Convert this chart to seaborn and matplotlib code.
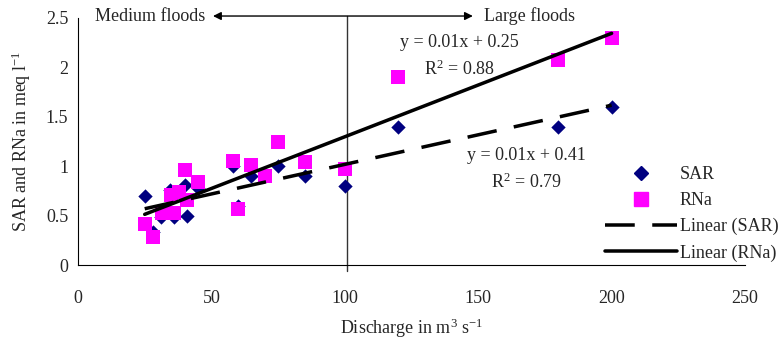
import numpy as np
import pandas as pd
import matplotlib
matplotlib.use("Agg")
import matplotlib.pyplot as plt
import seaborn as sns
from matplotlib.lines import Line2D

# ---- data ----
sar_x = [25, 28, 31, 34.5, 36, 40, 41, 45, 58, 60, 65, 75, 85, 100, 120, 180, 200]
sar_y = [0.70, 0.33, 0.49, 0.76, 0.49, 0.81, 0.50, 0.78, 1.00, 0.60, 0.90, 1.00, 0.90, 0.80, 1.40, 1.40, 1.60]
rna_x = [25, 28, 31.5, 35, 36, 38, 40, 41, 45, 58, 60, 65, 70, 75, 85, 100, 120, 180, 200]
rna_y = [0.42, 0.28, 0.53, 0.71, 0.53, 0.74, 0.96, 0.66, 0.84, 1.05, 0.57, 1.01, 0.90, 1.24, 1.04, 0.97, 1.90, 2.07, 2.30]

x_ticks = [0, 50, 100, 150, 200, 250]
y_ticks = [0, 0.5, 1, 1.5, 2, 2.5]
eq_rna = ["y = 0.01x + 0.25", "R$^2$ = 0.88"]
eq_sar = ["y = 0.01x + 0.41", "R$^2$ = 0.79"]

sns.set_style("white")
plt.rcParams["font.family"] = ["Liberation Serif", "DejaVu Serif"]
plt.rcParams["mathtext.fontset"] = "custom"
plt.rcParams["mathtext.rm"] = "Liberation Serif"
plt.rcParams["mathtext.it"] = "Liberation Serif:italic"
FS = 13

fig = plt.figure(figsize=(7.81, 3.47), dpi=100)
ax = fig.add_axes([78/781, 1-265/347, (745-78)/781, (265-18)/347])

sar_df = pd.DataFrame({"x": sar_x, "y": sar_y})
rna_df = pd.DataFrame({"x": rna_x, "y": rna_y})

NAVY = "#000080"
MAG = "#FF00FF"
LW = 3.5 * 72 / 100
DASH = (8.5, 5)

sns.regplot(data=sar_df, x="x", y="y", ax=ax, scatter=False, ci=None, truncate=True,
            line_kws=dict(color="black", lw=LW, dashes=DASH, zorder=3))
sns.regplot(data=rna_df, x="x", y="y", ax=ax, scatter=False, ci=None, truncate=True,
            line_kws=dict(color="black", lw=LW, zorder=3))
sns.scatterplot(data=sar_df, x="x", y="y", ax=ax, marker="D", s=7.3**2, color=NAVY,
                edgecolor=NAVY, linewidth=0, zorder=2)
sns.scatterplot(data=rna_df, x="x", y="y", ax=ax, marker="s", s=10**2, color=MAG,
                edgecolor=MAG, linewidth=0, zorder=2)

ax.set_xlim(0, 250)
ax.set_ylim(0, 2.5)
ax.set_xticks(x_ticks)
ax.set_yticks(y_ticks)
ax.set_xticklabels([str(v) for v in x_ticks], fontsize=FS)
ax.set_yticklabels([("%g" % v) for v in y_ticks], fontsize=FS)
ax.tick_params(axis="both", direction="out", length=5, width=0.8, color="black", pad=2)
ax.tick_params(axis="x", pad=13)
for s in ["top", "right"]:
    ax.spines[s].set_visible(False)
for s in ["left", "bottom"]:
    ax.spines[s].set_color("black")
    ax.spines[s].set_linewidth(0.8)
ax.grid(False)

ax.set_xlabel("Discharge in m$^3$ s$^{-1}$", fontsize=FS, labelpad=7)
ax.set_ylabel("SAR and RNa in meq l$^{-1}$", fontsize=FS, labelpad=9)

# flood regime annotations
ax.plot([101, 101], [-0.06, 2.52], color="#333333", lw=1.0, clip_on=False, zorder=1)
ax.annotate("", xy=(50.6, 2.52), xytext=(148, 2.52),
            arrowprops=dict(arrowstyle="<|-|>", color="black", lw=1.0,
                            mutation_scale=12, shrinkA=0, shrinkB=0),
            annotation_clip=False)
ax.text(27, 2.52, "Medium floods", fontsize=FS, ha="center", va="center", clip_on=False)
ax.text(169.3, 2.52, "Large floods", fontsize=FS, ha="center", va="center", clip_on=False)

ax.text(143.1, 2.247, eq_rna[0], fontsize=FS, ha="center", va="center")
ax.text(143.1, 1.984, eq_rna[1], fontsize=FS, ha="center", va="center")
ax.text(168.2, 1.113, eq_sar[0], fontsize=FS, ha="center", va="center")
ax.text(168.2, 0.840, eq_sar[1], fontsize=FS, ha="center", va="center")

handles = [
    Line2D([], [], ls="none", marker="D", ms=7.3, color=NAVY, mec=NAVY),
    Line2D([], [], ls="none", marker="s", ms=10, color=MAG, mec=MAG),
    Line2D([], [], color="black", lw=LW, dashes=DASH),
    Line2D([], [], color="black", lw=LW),
]
labels = ["SAR", "RNa", "Linear (SAR)", "Linear (RNa)"]
fig.legend(handles, labels, loc="upper left", bbox_to_anchor=(605/781, 1-166/347),
           frameon=False, fontsize=FS, handlelength=4.0, handletextpad=0.15,
           labelspacing=0.5, borderpad=0, borderaxespad=0)

fig.savefig("out.png", dpi=100)
